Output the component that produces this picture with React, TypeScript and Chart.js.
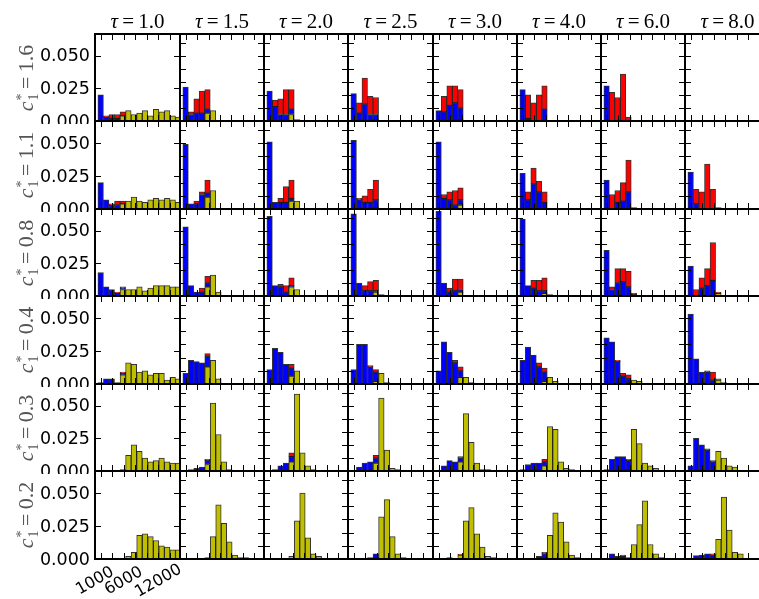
import React, { useEffect, useRef } from 'react';
import { Chart, registerables } from 'chart.js';
Chart.register(...registerables);

const tauLabels = ['1.0', '1.5', '2.0', '2.5', '3.0', '4.0', '6.0', '8.0'];
const c1Labels = ['1.6', '1.1', '0.8', '0.4', '0.3', '0.2'];
const binCenters = [1980, 2940, 3900, 4860, 5820, 6780, 7740, 8700, 9660, 10620, 11580, 12540, 13500, 14460, 15420];
const xTickMarks = [2000, 4000, 6000, 8000, 10000, 12000, 14000];
const xTickLabels = [1000, 6000, 12000];
const yTickMarksInner = [0.01, 0.02, 0.03, 0.04, 0.05, 0.06];
const yTickLabels = [0, 0.025, 0.05];

// c1* = 1.6
const yellow16 = [
  [0, 0, 0, 0, 0.004, 0.008, 0.005, 0.006, 0.008, 0.004, 0.009, 0.007, 0.008, 0.004, 0.003],
  [0, 0, 0, 0, 0.006, 0.008],
  [0, 0, 0, 0, 0.005, 0.001],
  [0, 0, 0, 0, 0.001],
  [0, 0, 0, 0, 0.001],
  [], [], [],
];
const blue16 = [
  [0.020, 0.003, 0.002, 0.002],
  [0.026, 0.005, 0.006, 0.006, 0.003],
  [0.023, 0.011, 0.005, 0.005, 0.004],
  [0.021, 0.006, 0.013, 0.005, 0.004],
  [0.008, 0.007, 0.012, 0.014, 0.009],
  [0.024, 0.002, 0, 0, 0.009],
  [0.027],
  [],
];
const red16 = [
  [0, 0.001, 0.003, 0.003, 0.003],
  [0, 0.002, 0.011, 0.017, 0.015],
  [0, 0.005, 0.012, 0.019, 0.015],
  [0, 0.008, 0.020, 0.014, 0.013],
  [0, 0.012, 0.015, 0.013, 0.014],
  [0, 0.018, 0.014, 0.020, 0.018],
  [0, 0.022, 0.018, 0.036, 0.003],
  [],
];

// c1* = 1.1
const yellow11 = [
  [0, 0, 0, 0, 0.004, 0.006, 0.009, 0.006, 0.005, 0.007, 0.008, 0.007, 0.008, 0.007, 0.005],
  [0, 0, 0, 0, 0.009, 0.014],
  [0, 0, 0, 0, 0.006, 0.006],
  [0, 0, 0, 0, 0.001],
  [0, 0, 0, 0, 0.003],
  [],
  [0, 0, 0, 0, 0, 0.001],
  [],
];
const blue11 = [
  [0.020, 0.007, 0.003, 0.003],
  [0.049, 0.004, 0.004, 0.011, 0.003],
  [0.051, 0.005, 0.005, 0.005, 0.002],
  [0.052, 0.007, 0.005, 0.005, 0.006],
  [0.051, 0.008, 0.007, 0.003, 0.004],
  [0.027, 0.007, 0.019, 0.013, 0.005],
  [0.022, 0, 0.005, 0.006, 0.013],
  [0.028, 0.004],
];
const red11 = [
  [0, 0, 0.001, 0.003, 0.002],
  [0, 0, 0.002, 0.002, 0.010],
  [0, 0, 0.003, 0.012, 0.014],
  [0, 0.001, 0.005, 0.010, 0.015],
  [0, 0.003, 0.006, 0.011, 0.009],
  [0, 0.006, 0.012, 0.008, 0.008],
  [0, 0.011, 0.009, 0.014, 0.024],
  [0, 0.011, 0.013, 0.034, 0.015, 0.001],
];

// c1* = 0.8
const yellow08 = [
  [0, 0, 0, 0, 0.005, 0.005, 0.005, 0.007, 0.004, 0.006, 0.008, 0.008, 0.008, 0.007, 0.007],
  [0, 0, 0, 0, 0.007, 0.016, 0.003],
  [0, 0, 0, 0, 0.007, 0.005],
  [0, 0, 0, 0, 0.003, 0.001],
  [0, 0, 0, 0, 0.003],
  [0, 0, 0, 0, 0.002, 0.001],
  [0, 0, 0, 0, 0, 0.001],
  [0, 0, 0, 0, 0, 0.002],
];
const blue08 = [
  [0.018, 0.007, 0.005, 0.002, 0.001],
  [0.053, 0.008, 0.003, 0.003, 0.003],
  [0.061, 0.008, 0.007, 0.003, 0.001],
  [0.063, 0.010, 0.004, 0.004, 0.001],
  [0.065, 0.010, 0.003, 0.004, 0.002],
  [0.059, 0.008, 0.006, 0.004, 0.002],
  [0.035, 0.005, 0.010, 0.011, 0.007],
  [0.023, 0, 0.006, 0.008, 0.012],
];
const red08 = [
  [0, 0, 0, 0.001, 0.001],
  [0, 0, 0, 0.003, 0.005],
  [0, 0, 0.002, 0.005, 0.006],
  [0, 0, 0.004, 0.007, 0.008],
  [0, 0, 0.003, 0.009, 0.008],
  [0, 0, 0.006, 0.008, 0.010],
  [0, 0.002, 0.011, 0.010, 0.012, 0.001],
  [0, 0.005, 0.008, 0.013, 0.029, 0.001],
];

// c1* = 0.4
const yellow04 = [
  [0, 0, 0, 0, 0.007, 0.016, 0.015, 0.009, 0.010, 0.007, 0.008, 0.008, 0.003, 0.005, 0.004],
  [0, 0, 0, 0, 0.013, 0.018, 0.004],
  [0, 0, 0, 0, 0.006, 0.010],
  [0, 0, 0, 0, 0.002, 0.008, 0.001],
  [0, 0, 0, 0, 0.005, 0.005, 0.001],
  [0, 0, 0, 0, 0.002, 0.005, 0.002, 0.0005],
  [0, 0, 0, 0, 0.001, 0.003, 0.002],
  [0, 0, 0, 0, 0, 0.003, 0.001],
];
const blue04 = [
  [0.001, 0.004, 0.004, 0.001, 0.001],
  [0.008, 0.018, 0.017, 0.016, 0.008],
  [0.011, 0.027, 0.024, 0.015, 0.006],
  [0.011, 0.030, 0.030, 0.013, 0.007],
  [0.010, 0.032, 0.024, 0.016, 0.005],
  [0.018, 0.028, 0.022, 0.013, 0.007],
  [0.035, 0.032, 0.017, 0.006, 0.003],
  [0.053, 0.019, 0.009, 0.009, 0.003],
];
const red04 = [
  [0, 0, 0, 0, 0.001],
  [0, 0, 0, 0, 0.002],
  [0, 0, 0, 0, 0.003],
  [0, 0, 0, 0.001, 0.002],
  [0, 0, 0, 0.002, 0.003],
  [0, 0, 0, 0.003, 0.003],
  [0, 0, 0.001, 0.002, 0.003],
  [0, 0, 0, 0.001, 0.006, 0.001],
];

// c1* = 0.3
const yellow03 = [
  [0, 0, 0.0005, 0, 0.001, 0.012, 0.020, 0.015, 0.010, 0.007, 0.008, 0.010, 0.007, 0.006, 0.006],
  [0, 0, 0, 0, 0.005, 0.052, 0.028, 0.007, 0.001, 0.0005],
  [0, 0, 0, 0, 0.007, 0.059, 0.014, 0.004, 0.001, 0, 0.0005],
  [0, 0, 0, 0, 0.006, 0.056, 0.016, 0.002, 0.001],
  [0, 0, 0, 0, 0.007, 0.044, 0.022, 0.006, 0.001, 0.001],
  [0, 0, 0, 0, 0.004, 0.034, 0.032, 0.007, 0.002, 0.001],
  [0, 0, 0, 0, 0.001, 0.032, 0.021, 0.006, 0.004, 0.002],
  [0, 0, 0, 0, 0, 0.015, 0.010, 0.004, 0.003],
];
const blue03 = [
  [],
  [0, 0.001, 0.002, 0.003, 0.003],
  [0, 0.001, 0.004, 0.006, 0.004],
  [0, 0.003, 0.006, 0.007, 0.004],
  [0.0005, 0.004, 0.008, 0.007, 0.003],
  [0.001, 0.005, 0.006, 0.006, 0.003],
  [0.001, 0.009, 0.011, 0.011, 0.007],
  [0.004, 0.025, 0.020, 0.016, 0.007],
];
const red03 = [
  [],
  [0, 0, 0, 0, 0.001],
  [0, 0, 0, 0, 0.003],
  [0, 0, 0, 0, 0.002],
  [0, 0, 0, 0, 0.001],
  [0, 0, 0, 0, 0.002],
  [0, 0, 0, 0, 0.001],
  [0, 0, 0, 0.001, 0.001],
];

// c1* = 0.2
const yellow02 = [
  [0, 0, 0, 0, 0, 0.002, 0.005, 0.018, 0.019, 0.017, 0.014, 0.010, 0.009, 0.007, 0.007],
  [0, 0, 0, 0, 0.001, 0.017, 0.041, 0.027, 0.013, 0.003, 0.001, 0.001],
  [0, 0, 0, 0, 0.002, 0.029, 0.050, 0.016, 0.004, 0.002, 0.0005],
  [0, 0, 0, 0, 0.001, 0.032, 0.045, 0.017, 0.004, 0.001, 0.0005],
  [0, 0, 0, 0, 0.003, 0.029, 0.039, 0.019, 0.009, 0.002, 0.001],
  [0, 0, 0, 0, 0.001, 0.018, 0.035, 0.028, 0.013, 0.003, 0.001],
  [0, 0, 0, 0, 0.001, 0.011, 0.026, 0.044, 0.011, 0.004, 0.001],
  [0, 0, 0, 0, 0, 0.015, 0.047, 0.022, 0.005, 0.004],
];
const blue02 = [
  [],
  [0, 0, 0, 0.0005],
  [],
  [0, 0, 0, 0.001, 0.003],
  [0, 0, 0.001],
  [0, 0, 0.0005, 0.002, 0.003],
  [0, 0.004, 0.002, 0.002],
  [0, 0.0025, 0.003, 0.004, 0.003],
];
const red02 = [
  [], [], [], [],
  [0, 0, 0, 0, 0.0005],
  [0, 0, 0, 0, 0.001],
  [0, 0, 0, 0.001],
  [0, 0, 0, 0, 0.001],
];

const rowsYellow = [yellow16, yellow11, yellow08, yellow04, yellow03, yellow02];
const rowsBlue = [blue16, blue11, blue08, blue04, blue03, blue02];
const rowsRed = [red16, red11, red08, red04, red03, red02];

const X_MIN = 1000;
const X_MAX = 15725;
const Y_MAX = 0.0667;

const colX = Array.from({ length: 9 }, (_, i) => Math.round(95.3 + 84.3 * i));
const rowY = Array.from({ length: 7 }, (_, i) => Math.round(33.5 + 87.5 * i));

const toPoints = (vals: number[]) =>
  binCenters.map((x, i) => ({ x, y: vals[i] ? vals[i] : null }));

const framePlugin = {
  id: 'frame',
  afterDraw(chart: any, _args: any, opts: any) {
    const { ctx, chartArea: a } = chart;
    const xs = chart.scales.x;
    const ys = chart.scales.y;
    const col = opts.col;
    const row = opts.row;
    ctx.save();
    ctx.strokeStyle = '#000';
    ctx.lineWidth = 1;
    const L = 6;
    ctx.beginPath();
    for (const v of xTickMarks) {
      const px = Math.round(xs.getPixelForValue(v)) + 0.5;
      if (px <= a.left || px >= a.right) continue;
      ctx.moveTo(px, a.top - 1);
      ctx.lineTo(px, a.top + L);
      ctx.moveTo(px, a.bottom + 1);
      ctx.lineTo(px, a.bottom - L);
    }
    const yt = col === 0 ? yTickLabels : yTickMarksInner;
    for (const v of yt) {
      const py = Math.round(ys.getPixelForValue(v)) + 0.5;
      if (py <= a.top || py >= a.bottom) continue;
      ctx.moveTo(a.left - 1, py);
      ctx.lineTo(a.left + L, py);
      ctx.moveTo(a.right + 1, py);
      ctx.lineTo(a.right - L, py);
    }
    ctx.stroke();
    ctx.lineWidth = 2;
    ctx.strokeRect(a.left, a.top, a.right - a.left, a.bottom - a.top);

    ctx.fillStyle = '#000';
    ctx.font = '17.5px "DejaVu Sans"';
    if (col === 0) {
      ctx.textAlign = 'right';
      ctx.textBaseline = 'middle';
      for (const v of yTickLabels) {
        const py = ys.getPixelForValue(v);
        ctx.fillText(v.toFixed(3), a.left - 5, py + 1);
      }
    }
    if (col === 0 && row === 5) {
      ctx.font = '16px "DejaVu Sans"';
      const ang = (30 * Math.PI) / 180;
      for (const v of xTickLabels) {
        const t = String(v);
        const px = xs.getPixelForValue(v);
        ctx.save();
        ctx.translate(px, a.bottom + 22);
        ctx.rotate(-ang);
        ctx.textAlign = 'center';
        ctx.textBaseline = 'middle';
        ctx.fillText(t, 0, 0);
        ctx.restore();
      }
    }
    ctx.restore();
  },
};

function Panel({ r, c }: { r: number; c: number }) {
  const ref = useRef<HTMLCanvasElement | null>(null);
  const left = colX[c];
  const right = colX[c + 1];
  const top = rowY[r];
  const bottom = rowY[r + 1];
  const padL = c === 0 ? left : 3;
  const padR = 3;
  const padT = 3;
  const padB = r === 5 && c === 0 ? 40 : 3;
  const w = right - left + padL + padR;
  const h = bottom - top + padT + padB;

  useEffect(() => {
    const canvas = ref.current;
    if (!canvas) return;
    const common = { borderColor: 'rgba(0,0,0,0.8)', borderWidth: 1, borderSkipped: false, barPercentage: 1, categoryPercentage: 1 };
    const chart = new Chart(canvas, {
      type: 'bar',
      data: {
        datasets: [
          { ...common, label: 'yellow', data: toPoints(rowsYellow[r][c]), backgroundColor: '#bfbf00' },
          { ...common, label: 'blue', data: toPoints(rowsBlue[r][c]), backgroundColor: '#0000ff' },
          { ...common, label: 'red', data: toPoints(rowsRed[r][c]), backgroundColor: '#ff0000' },
        ] as any,
      },
      options: {
        animation: false,
        responsive: false,
        maintainAspectRatio: false,
        devicePixelRatio: 1,
        events: [],
        layout: { padding: { left: padL, right: padR, top: padT, bottom: padB } },
        plugins: { legend: { display: false }, tooltip: { enabled: false }, frame: { row: r, col: c } } as any,
        scales: {
          x: { type: 'linear', min: X_MIN, max: X_MAX, stacked: true, offset: false, display: false },
          y: { type: 'linear', min: 0, max: Y_MAX, stacked: true, display: false },
        },
      },
      plugins: [framePlugin],
    });
    return () => chart.destroy();
  }, [r, c]);

  return (
    <canvas
      ref={ref}
      width={w}
      height={h}
      style={{ position: 'absolute', left: left - padL, top: top - padT, width: w, height: h }}
    />
  );
}

export default function App() {
  const panels: React.ReactNode[] = [];
  for (let r = 0; r < 6; r++) {
    for (let c = 0; c < 8; c++) {
      panels.push(<Panel key={`${r}-${c}`} r={r} c={c} />);
    }
  }
  return (
    <div style={{ position: 'absolute', left: 0, top: 0, width: 759, height: 599, overflow: 'hidden', background: '#fff' }}>
      {panels}
      {tauLabels.map((t, c) => (
        <div
          key={'t' + c}
          style={{
            position: 'absolute',
            left: (colX[c] + colX[c + 1]) / 2,
            top: 10,
            transform: 'translateX(-50%)',
            font: '21px "Liberation Serif"',
            lineHeight: '22px',
            whiteSpace: 'nowrap',
            color: '#000',
          }}
        >
          <i>τ</i>&thinsp;=&thinsp;{t}
        </div>
      ))}
      {c1Labels.map((t, r) => (
        <div
          key={'c' + r}
          style={{
            position: 'absolute',
            left: 27,
            top: (rowY[r] + rowY[r + 1]) / 2,
            transform: 'translate(-50%, -50%) rotate(-90deg)',
            font: '22px "Liberation Serif"',
            lineHeight: '24px',
            whiteSpace: 'nowrap',
            color: '#555',
          }}
        >
          <i>c</i>
          <span style={{ display: 'inline-flex', flexDirection: 'column', verticalAlign: 'middle', fontSize: '14px', lineHeight: '12px', marginLeft: 1 }}>
            <span>*</span>
            <span>1</span>
          </span>
          &thinsp;=&thinsp;{t}
        </div>
      ))}
    </div>
  );
}
